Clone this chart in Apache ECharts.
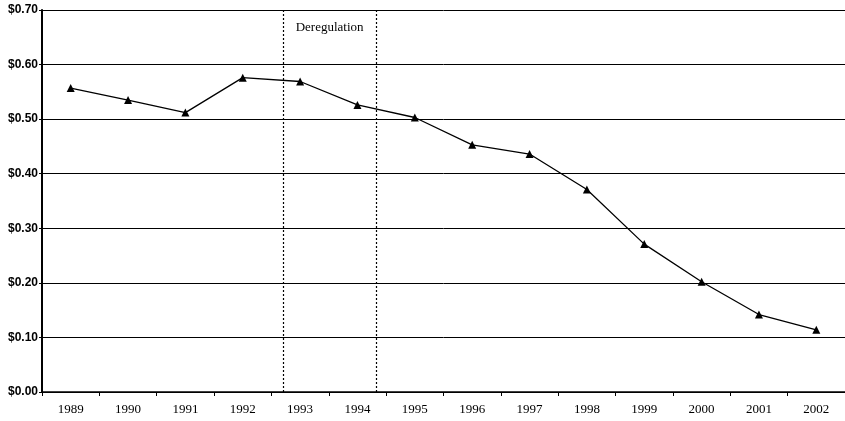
<!DOCTYPE html>
<html><head><meta charset="utf-8">
<script src="https://cdn.jsdelivr.net/npm/echarts@6/dist/echarts.min.js"></script>
<style>html,body{margin:0;padding:0;background:#fff}#c{width:845px;height:421px}</style>
</head><body><div id="c"></div>
<script>
var years = ['1989','1990','1991','1992','1993','1994','1995','1996','1997','1998','1999','2000','2001','2002'];
var prices = [0.557,0.535,0.512,0.576,0.569,0.526,0.503,0.453,0.436,0.371,0.271,0.202,0.142,0.114];
var deregPeriod = [4.21, 5.82]; // positions in category units (0 = left edge)
var deregLabel = 'Deregulation';

var chart = echarts.init(document.getElementById('c'));
var font = 'Liberation Serif';
chart.setOption({
  animation:false,
  grid:{left:42,right:-5,top:10,bottom:29,containLabel:false},
  xAxis:[{
    type:'category',data:years,boundaryGap:true,
    axisLine:{lineStyle:{color:'#000',width:1.5}},
    axisTick:{show:true,alignWithLabel:false,length:4,lineStyle:{color:'#000'}},
    axisLabel:{color:'#000',fontFamily:font,fontSize:13,margin:11}
  },{
    type:'value',min:0,max:years.length,show:false
  }],
  yAxis:{
    type:'value',min:0,max:0.7,interval:0.1,
    axisLine:{show:true,lineStyle:{color:'#000',width:2}},
    axisTick:{show:true,length:3,lineStyle:{color:'#000'}},
    splitLine:{lineStyle:{color:'#000',width:1}},
    axisLabel:{color:'#000',fontFamily:'Liberation Sans',fontWeight:'bold',fontSize:12,margin:4,
      formatter:function(v){return '$'+v.toFixed(2);}}
  },
  series:[{
    type:'line',data:prices,xAxisIndex:0,
    symbol:'triangle',symbolSize:8,
    lineStyle:{color:'#000',width:1.3},
    itemStyle:{color:'#000'}
  },{
    type:'line',data:[],xAxisIndex:1,
    markLine:{silent:true,symbol:'none',label:{show:false},
      lineStyle:{color:'#000',type:[2,2],width:1.2},
      data:deregPeriod.map(function(v){return {xAxis:v};})},
    markArea:{silent:true,itemStyle:{color:'rgba(0,0,0,0)'},
      label:{show:true,position:'insideTop',distance:11,color:'#000',fontFamily:font,fontSize:13},
      data:[[{xAxis:deregPeriod[0],name:deregLabel},{xAxis:deregPeriod[1]}]]}
  }]
});
</script></body></html>
